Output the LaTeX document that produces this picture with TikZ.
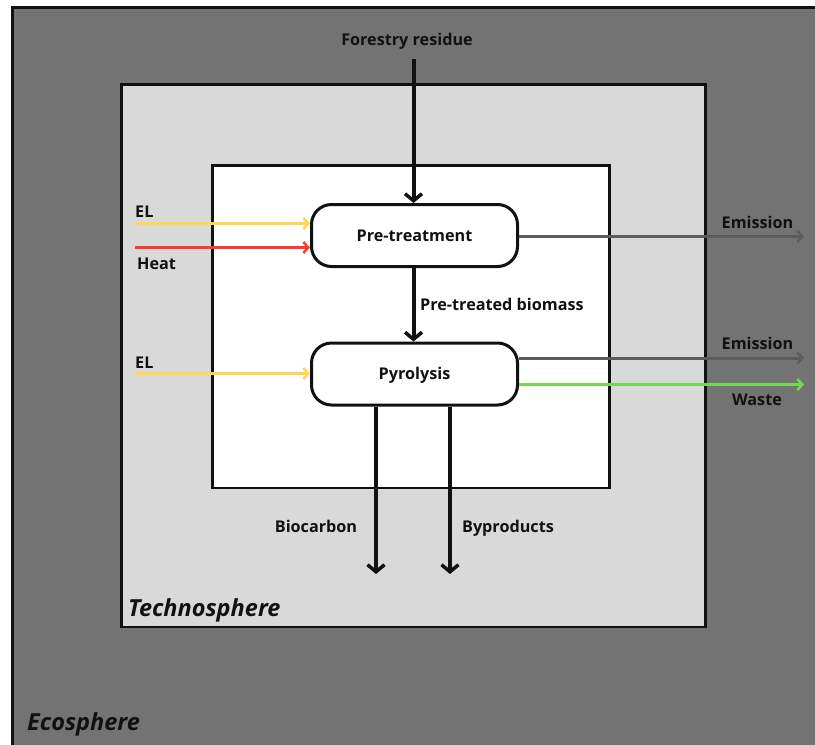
\documentclass[tikz,border=0pt]{standalone}
\usepackage{fontspec}
\setmainfont{Open Sans}
\usetikzlibrary{arrows.meta}
\definecolor{ecogray}{HTML}{737373}
\definecolor{technogray}{HTML}{D9D9D9}
\definecolor{elyellow}{HTML}{FFD654}
\definecolor{heatred}{HTML}{FF3B30}
\definecolor{wastegreen}{HTML}{74D850}
\definecolor{emitgray}{HTML}{5C5C5C}
\definecolor{ink}{HTML}{111111}
\tikzset{
  lbl/.style={font=\bfseries\fontsize{16.2}{19}\selectfont, text=ink, inner sep=0pt, anchor=base},
  sphere/.style={font=\bfseries\itshape\fontsize{23.5}{28}\selectfont, text=ink, inner sep=0pt, anchor=base west},
  proc/.style={draw=ink, line width=3pt, fill=white, rounded corners=20pt,
    minimum width=206pt, minimum height=62pt, inner sep=0pt,
    text height=13pt, text depth=2pt,
    font=\bfseries\fontsize{16.2}{19}\selectfont, text=ink},
  mainflow/.style={draw=ink, line width=4pt,
    -{Straight Barb[length=7pt,width=17pt,line width=3.5pt]}},
  sideflow/.style={line width=3pt,
    -{Straight Barb[length=5pt,width=11pt,line width=2.5pt]}},
}
\begin{document}
\begin{tikzpicture}[x=1pt,y=-1pt]
\useasboundingbox (0,0) rectangle (815,745);
% Ecosphere: runs past the right and bottom edges
\begin{scope}
  \clip (0,0) rectangle (815,745);
  \draw[ink, line width=3pt, fill=ecogray] (12,7.5) rectangle (840,775);
\end{scope}
% Technosphere and the process system boundary
\draw[ink, line width=2.7pt, fill=technogray] (121.5,84.5) rectangle (705.5,627);
\draw[ink, line width=2.7pt, fill=white] (212.5,165.5) rectangle (609.5,488);

% Unit processes
\node[proc] (pre) at (414.5,235.5) {Pre-treatment};
\node[proc] (pyr) at (414.5,374) {Pyrolysis};

% Main material flow
\coordinate (feed) at (413.5,59);
\draw[mainflow] (feed) -- (feed |- pre.north);
\draw[mainflow] (413.5,0 |- pre.south) -- (413.5,0 |- pyr.north);
\node[lbl, anchor=base west] (ptb) at (420,310.5) {Pre-treated biomass};
\node[lbl] (fr) at (407,45.7) {Forestry residue};

% Products leaving the system
\coordinate (bioc) at (376,574);
\coordinate (byp) at (450,574);
\draw[mainflow] (bioc |- pyr.south) -- (bioc);
\draw[mainflow] (byp |- pyr.south) -- (byp);
\node[lbl] (biocl) at (316,532.7) {Biocarbon};
\node[lbl] (bypl) at (508,532.7) {Byproducts};

% Energy inputs
\coordinate (el1) at (135,223.5);
\coordinate (heat) at (135,247.5);
\coordinate (el2) at (135,373.5);
\draw[sideflow, elyellow] (el1) -- (el1 -| pre.west);
\draw[sideflow, heatred] (heat) -- (heat -| pre.west);
\draw[sideflow, elyellow] (el2) -- (el2 -| pyr.west);
\node[lbl, anchor=base west] (el1l) at (135,217) {EL};
\node[lbl, anchor=base west] (heatl) at (137,269.3) {Heat};
\node[lbl, anchor=base west] (el2l) at (135,368.5) {EL};

% Outputs to the environment
\coordinate (em1) at (804,236.5);
\coordinate (em2) at (804,358);
\coordinate (wst) at (804,384.5);
\draw[sideflow, emitgray] (em1 -| pre.east) -- (em1);
\draw[sideflow, emitgray] (em2 -| pyr.east) -- (em2);
\draw[sideflow, wastegreen] (wst -| pyr.east) -- (wst);
\node[lbl] (em1l) at (757.5,228) {Emission};
\node[lbl] (em2l) at (757.5,349) {Emission};
\node[lbl] (wstl) at (757,405) {Waste};

% Sphere labels
\node[sphere] (techno) at (128,616.7) {Technosphere};
\node[sphere] (eco) at (27,730) {Ecosphere};
\end{tikzpicture}
\end{document}
